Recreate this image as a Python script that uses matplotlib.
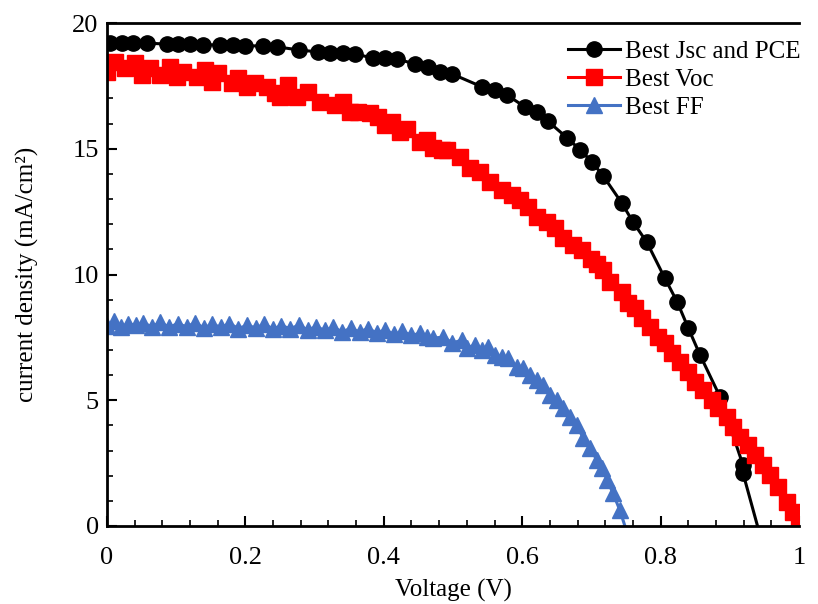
import numpy as np
import matplotlib
matplotlib.use('Agg')
import matplotlib.pyplot as plt
from matplotlib.ticker import MultipleLocator

# Best Jsc and PCE (black circles)
v_jsc = [0.004, 0.022, 0.038, 0.058, 0.087, 0.103, 0.120, 0.139, 0.163, 0.182,
         0.199, 0.225, 0.246, 0.277, 0.305, 0.322, 0.341, 0.358, 0.384, 0.402,
         0.419, 0.445, 0.464, 0.481, 0.499, 0.542, 0.561, 0.578, 0.604, 0.621,
         0.637, 0.665, 0.684, 0.701, 0.717, 0.744, 0.760, 0.780, 0.806, 0.824,
         0.840, 0.857, 0.886, 0.919, 0.919, 0.960]
j_jsc = [19.20, 19.20, 19.20, 19.20, 19.16, 19.16, 19.16, 19.13, 19.13, 19.13,
         19.09, 19.09, 19.05, 18.93, 18.85, 18.81, 18.81, 18.77, 18.61, 18.61,
         18.57, 18.37, 18.25, 18.05, 17.97, 17.46, 17.34, 17.14, 16.66, 16.46,
         16.10, 15.43, 14.95, 14.47, 13.92, 12.84, 12.09, 11.29, 9.86, 8.91,
         7.87, 6.80, 5.13, 2.43, 2.11, -2.0]

# Best Voc (red squares)
v_voc = [0.000, 0.012, 0.026, 0.040, 0.051, 0.062, 0.077, 0.091, 0.101, 0.110,
         0.130, 0.142, 0.152, 0.160, 0.181, 0.189, 0.202, 0.214, 0.231, 0.243,
         0.250, 0.262, 0.275, 0.290, 0.308, 0.329, 0.341, 0.351, 0.363, 0.380,
         0.392, 0.402, 0.412, 0.423, 0.434, 0.452, 0.462, 0.471, 0.484, 0.491,
         0.510, 0.525, 0.539, 0.553, 0.571, 0.585, 0.597, 0.608, 0.621, 0.636,
         0.647, 0.659, 0.673, 0.686, 0.700, 0.708, 0.717, 0.727, 0.744, 0.753,
         0.763, 0.773, 0.785, 0.796, 0.806, 0.816, 0.828, 0.840, 0.850, 0.861,
         0.874, 0.883, 0.896, 0.905, 0.915, 0.926, 0.936, 0.948, 0.958, 0.970,
         0.983, 0.991, 1.000]
j_voc = [18.05, 18.45, 18.20, 18.40, 17.93, 18.20, 17.93, 18.25, 17.85, 18.05,
         17.85, 18.13, 17.65, 18.00, 17.60, 17.80, 17.45, 17.60, 17.45, 17.20,
         17.06, 17.53, 17.06, 17.26, 16.85, 16.74, 16.85, 16.46, 16.46, 16.42,
         16.26, 15.94, 16.06, 15.67, 15.77, 15.27, 15.35, 15.03, 14.95, 14.95,
         14.67, 14.23, 14.08, 13.68, 13.36, 13.16, 12.96, 12.68, 12.29, 12.09,
         11.85, 11.45, 11.17, 10.97, 10.60, 10.40, 10.18, 9.70, 9.30, 8.87,
         8.67, 8.27, 7.91, 7.51, 7.28, 6.88, 6.52, 6.12, 5.73, 5.41,
         5.01, 4.69, 4.33, 3.94, 3.54, 3.22, 2.82, 2.43, 2.03, 1.55,
         0.95, 0.56, 0.20]

# Best FF (blue triangles)
v_ff = [0.000, 0.010, 0.020, 0.030, 0.042, 0.052, 0.065, 0.077, 0.090, 0.102,
        0.115, 0.127, 0.140, 0.152, 0.165, 0.177, 0.190, 0.202, 0.215, 0.227,
        0.240, 0.252, 0.265, 0.277, 0.290, 0.302, 0.315, 0.327, 0.340, 0.352,
        0.365, 0.377, 0.390, 0.402, 0.415, 0.427, 0.440, 0.452, 0.462, 0.471,
        0.486, 0.499, 0.513, 0.520, 0.532, 0.542, 0.551, 0.561, 0.571, 0.579,
        0.592, 0.601, 0.611, 0.621, 0.630, 0.640, 0.650, 0.659, 0.669, 0.679,
        0.688, 0.698, 0.708, 0.715, 0.723, 0.731, 0.741, 0.760]
j_ff = [7.95, 8.15, 7.90, 8.05, 7.98, 8.08, 7.92, 8.10, 7.90, 8.05,
        7.92, 8.08, 7.88, 8.02, 7.90, 8.05, 7.85, 7.98, 7.88, 8.02,
        7.84, 7.96, 7.85, 7.98, 7.80, 7.92, 7.78, 7.90, 7.72, 7.86,
        7.72, 7.85, 7.68, 7.80, 7.62, 7.74, 7.58, 7.66, 7.52, 7.47,
        7.51, 7.28, 7.39, 7.08, 7.20, 7.00, 7.12, 6.80, 6.72, 6.68,
        6.32, 6.28, 6.00, 5.81, 5.61, 5.21, 5.01, 4.69, 4.33, 4.02,
        3.50, 3.10, 2.62, 2.31, 1.83, 1.31, 0.64, -1.0]

plt.rcParams['font.family'] = ['Liberation Serif', 'DejaVu Serif']
plt.rcParams['font.size'] = 18

fig = plt.figure(figsize=(8.18, 6.04), dpi=100)
ax = fig.add_axes([107/818, 1-526/604, (799-107)/818, (526-23)/604])

ax.plot(v_jsc, j_jsc, color='black', lw=2.2, marker='o', ms=11, label='Best Jsc and PCE')
ax.plot(v_voc, j_voc, color='#FF0000', lw=2.2, marker='s', ms=11.5, label='Best Voc')
ax.plot(v_ff, j_ff, color='#4472C4', lw=2.2, marker='^', ms=11.5, label='Best FF')

ax.set_xlim(0, 1)
ax.set_ylim(0, 20)
ax.xaxis.set_major_locator(MultipleLocator(0.2))
ax.xaxis.set_minor_locator(MultipleLocator(0.04))
ax.yaxis.set_major_locator(MultipleLocator(5))
ax.yaxis.set_minor_locator(MultipleLocator(1))
ax.xaxis.set_major_formatter(matplotlib.ticker.FuncFormatter(lambda x, p: '%g' % round(x, 2)))
ax.tick_params(which='major', direction='in', length=7, width=1.5, labelsize=19)
ax.tick_params(axis='x', which='major', pad=15)
ax.tick_params(axis='y', which='major', pad=6)
ax.tick_params(which='minor', direction='in', length=4, width=1.2)
ax.tick_params(axis='y', which='both', left=True, right=False)
ax.tick_params(axis='x', which='both', bottom=True, top=False)
for s in ['left', 'bottom', 'top']:
    ax.spines[s].set_linewidth(2)
ax.spines['right'].set_visible(False)

ax.set_xlabel('Voltage (V)', fontsize=18, labelpad=7)
ax.set_ylabel('current density (mA/cm²)', fontsize=18, labelpad=24)

ax.legend(loc='upper right', bbox_to_anchor=(1.028, 1.0), frameon=False, fontsize=18,
          handlelength=2.1, handletextpad=0.2, labelspacing=0.22, borderaxespad=0.3)

fig.savefig('out.png', dpi=100)
